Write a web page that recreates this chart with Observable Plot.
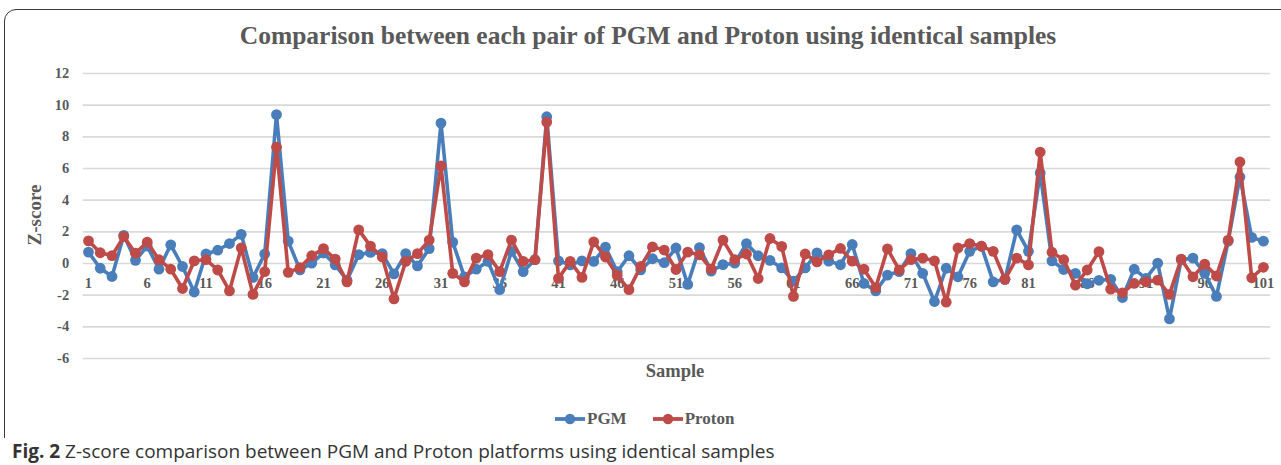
<!DOCTYPE html>
<html>
<head>
<meta charset="utf-8">
<script src="https://cdn.jsdelivr.net/npm/d3@7"></script>
<script src="https://cdn.jsdelivr.net/npm/@observablehq/plot@0.6"></script>
<style>
  html, body { margin: 0; padding: 0; background: #fff; }
  body { width: 1281px; height: 465px; overflow: hidden; position: relative; }
  #frame { position: absolute; left: 4px; top: 9px; width: 1320px; height: 520px;
           border: 1.5px solid #3a3a3a; border-radius: 12px; box-sizing: border-box; }
  #chart { position: absolute; left: 0; top: 0; }
  .serif { font-family: "Liberation Serif", "Times New Roman", serif; font-weight: bold; color: #595959; }
  #title { position: absolute; left: 0; width: 1296px; top: 21px; text-align: center; font-size: 25.5px; white-space: nowrap; }
  #ytitle { position: absolute; left: 35px; top: 215px; transform: translate(-50%, -50%) rotate(-90deg); font-size: 19px; white-space: nowrap; }
  #xtitle { position: absolute; left: 675px; top: 361px; transform: translateX(-50%); font-size: 18.5px; }
  #legend { position: absolute; left: 555px; top: 409px; font-size: 17px; display: flex; align-items: center; white-space: nowrap; }
  #legend .item { display: flex; align-items: center; margin-right: 26px; }
  #legend svg { margin-right: 2px; }
  #caption { position: absolute; left: 0; top: 438px; width: 1281px; height: 27px; background: #fff;
             font-family: "Open Sans", "Noto Sans", sans-serif; font-size: 19px; color: #333; padding-left: 12px; box-sizing: border-box; line-height: 27px; white-space: nowrap; }
</style>
</head>
<body>
<div id="frame"></div>
<div id="chart"></div>
<div id="title" class="serif">Comparison between each pair of PGM and Proton using identical samples</div>
<div id="ytitle" class="serif">Z-score</div>
<div id="xtitle" class="serif">Sample</div>
<div id="legend" class="serif"></div>
<div id="caption"><b>Fig. 2</b> Z-score comparison between PGM and Proton platforms using identical samples</div>
<script>
// ---- data ----
const seriesNames = ["PGM", "Proton"];
const seriesColors = ["#4a7ebb", "#be4b48"];
const pgm = [
  0.72, -0.3, -0.82, 1.78, 0.2, 1.1, -0.36, 1.18, -0.19, -1.8,
  0.6, 0.84, 1.26, 1.84, -0.88, 0.6, 9.4, 1.41, -0.4, 0.02,
  0.66, -0.09, -1.05, 0.56, 0.7, 0.62, -0.66, 0.62, -0.15, 0.94,
  8.87, 1.35, -0.84, -0.36, 0.13, -1.65, 0.77, -0.51, 0.24, 9.27,
  0.17, -0.09, 0.17, 0.13, 1.03, -0.52, 0.49, -0.4, 0.3, 0.05,
  0.98, -1.32, 1.0, -0.48, -0.07, 0.02, 1.26, 0.49, 0.2, -0.28,
  -1.12, -0.28, 0.67, 0.15, -0.08, 1.2, -1.26, -1.73, -0.73, -0.51,
  0.62, -0.62, -2.4, -0.3, -0.84, 0.77, 1.09, -1.16, -1.0, 2.12,
  0.77, 5.72, 0.17, -0.38, -0.62, -1.28, -1.06, -1.0, -2.15, -0.36,
  -0.94, 0.02, -3.5, 0.24, 0.34, -0.62, -2.08, 1.41, 5.46, 1.65,
  1.41
];
const proton = [
  1.43, 0.68, 0.5, 1.7, 0.65, 1.35, 0.24, -0.36, -1.58, 0.17,
  0.24, -0.41, -1.73, 0.99, -1.95, -0.51, 7.35, -0.56, -0.26, 0.49,
  0.94, 0.28, -1.16, 2.12, 1.1, 0.41, -2.23, 0.13, 0.62, 1.48,
  6.16, -0.62, -1.16, 0.34, 0.56, -0.51, 1.48, 0.13, 0.24, 8.93,
  -0.94, 0.13, -0.88, 1.37, 0.41, -0.75, -1.65, -0.19, 1.05, 0.85,
  -0.38, 0.72, 0.55, -0.35, 1.48, 0.24, 0.6, -0.95, 1.58, 1.08,
  -2.08, 0.6, 0.1, 0.55, 0.95, 0.15, -0.36, -1.52, 0.92, -0.41,
  0.24, 0.34, 0.17, -2.44, 0.98, 1.26, 1.09, 0.77, -1.0, 0.34,
  -0.09, 7.04, 0.71, 0.24, -1.37, -0.41, 0.75, -1.62, -1.85, -1.26,
  -1.16, -1.05, -1.95, 0.28, -0.84, -0.04, -0.79, 1.48, 6.41, -0.9,
  -0.24
];
const xTickLabels = [1, 6, 11, 16, 21, 26, 31, 36, 41, 46, 51, 56, 61, 66, 71, 76, 81, 86, 91, 96, 101];
const yTicks = [-6, -4, -2, 0, 2, 4, 6, 8, 10, 12];

// ---- build table ----
const pgmData = pgm.map((v, i) => ({sample: i + 1, z: v}));
const protonData = proton.map((v, i) => ({sample: i + 1, z: v}));

const chart = Plot.plot({
  width: 1281,
  height: 465,
  marginLeft: 82.7,
  marginRight: 11,
  marginTop: 73,
  marginBottom: 107,
  x: {domain: [0.55, 101.6], axis: null},
  y: {domain: [-6, 12], label: null},
  style: {fontFamily: "'Liberation Serif', 'Times New Roman', serif", fontWeight: "bold", fontSize: "14.5px", color: "#595959", background: "transparent"},
  marks: [
    Plot.gridY(yTicks, {stroke: "#d9d9d9", strokeOpacity: 1, strokeWidth: 1.6}),
    Plot.axisY({ticks: yTicks, tickSize: 0, tickPadding: 14, label: null, fill: "#595959", tickFormat: d => String(d)}),
    Plot.text(xTickLabels, {x: d => d, y: () => 0, dy: 20, text: d => String(d), fill: "#595959", fontSize: 14.5, fontWeight: "bold"}),
    Plot.line(pgmData, {x: "sample", y: "z", stroke: seriesColors[0], strokeWidth: 3.6, strokeLinejoin: "round"}),
    Plot.dot(pgmData, {x: "sample", y: "z", r: 5.4, fill: seriesColors[0], stroke: "none"}),
    Plot.line(protonData, {x: "sample", y: "z", stroke: seriesColors[1], strokeWidth: 3.6, strokeLinejoin: "round"}),
    Plot.dot(protonData, {x: "sample", y: "z", r: 5.4, fill: seriesColors[1], stroke: "none"})
  ]
});
document.getElementById("chart").appendChild(chart);

// ---- legend ----
const legend = document.getElementById("legend");
seriesNames.forEach((name, i) => {
  const item = document.createElement("div");
  item.className = "item";
  item.innerHTML = `<svg width="30" height="12"><line x1="0" y1="6" x2="30" y2="6" stroke="${seriesColors[i]}" stroke-width="3.8"/><circle cx="15" cy="6" r="5.2" fill="${seriesColors[i]}"/></svg><span>${name}</span>`;
  legend.appendChild(item);
});
</script>
</body>
</html>
